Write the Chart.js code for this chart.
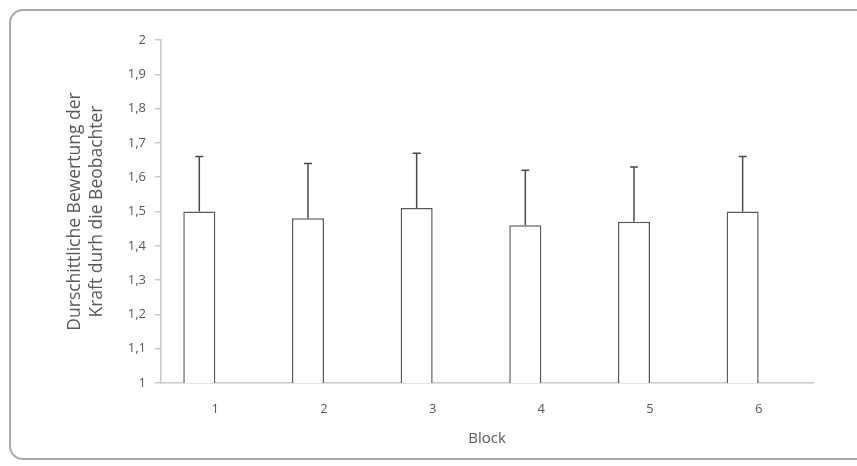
<!DOCTYPE html>
<html>
<head>
<meta charset="utf-8">
<script src="https://cdn.jsdelivr.net/npm/chart.js@4.4.1/dist/chart.umd.min.js"></script>
<style>
    html, body { margin: 0; padding: 0; background: #fff; overflow: hidden; }
    .frame {
        position: absolute; left: 9px; top: 9px; width: 900px; height: 451px;
        border: 2px solid #a9a9a9; border-radius: 14px; box-sizing: border-box;
    }
    .wrap { position: absolute; left: 0; top: 0; width: 857px; height: 466px; }
</style>
</head>
<body>
<div class="frame"></div>
<div class="wrap"><canvas id="blockChart"></canvas></div>
<script>
const BLOCKS = ['1', '2', '3', '4', '5', '6'];
const MEANS = [1.50, 1.48, 1.51, 1.46, 1.47, 1.50];
const ERRORS = [0.16, 0.16, 0.16, 0.16, 0.16, 0.16];
const Y_TICKS = [1, 1.1, 1.2, 1.3, 1.4, 1.5, 1.6, 1.7, 1.8, 1.9, 2];

const TEXT_COLOR = '#595959';
const AXIS_COLOR = '#c8c8c8';
const FONT = 'Open Sans';

// only upward error bars, like the original
const errorBars = {
    id: 'errorBars',
    afterDatasetsDraw(chart) {
        const meta = chart.getDatasetMeta(0);
        const y = chart.scales.y;
        const ctx = chart.ctx;
        ctx.save();
        ctx.strokeStyle = '#4a4a4a';
        ctx.lineWidth = 1.5;
        meta.data.forEach((bar, i) => {
            const top = y.getPixelForValue(MEANS[i] + ERRORS[i]);
            const base = y.getPixelForValue(MEANS[i]);
            ctx.beginPath();
            ctx.moveTo(bar.x, base);
            ctx.lineTo(bar.x, top);
            ctx.moveTo(bar.x - 4, top);
            ctx.lineTo(bar.x + 4, top);
            ctx.stroke();
        });
        ctx.restore();
    }
};

const ctx = document.getElementById('blockChart').getContext('2d');
new Chart(ctx, {
    type: 'bar',
    data: {
        labels: BLOCKS,
        datasets: [{
            data: MEANS,
            backgroundColor: '#ffffff',
            borderColor: '#5a5a5a',
            borderWidth: 1.5,
            categoryPercentage: 0.59,
            barPercentage: 1,
        }, {
            // empty second series keeps the bars on the left half of each slot
            data: BLOCKS.map(() => null),
            categoryPercentage: 0.59,
            barPercentage: 1,
        }]
    },
    options: {
        responsive: true,
        maintainAspectRatio: false,
        animation: false,
        layout: { padding: { left: 64, top: 40, right: 44, bottom: 14 } },
        plugins: { legend: { display: false }, tooltip: { enabled: false } },
        scales: {
            x: {
                grid: { display: false },
                border: { display: true, color: AXIS_COLOR, width: 1.5 },
                ticks: { color: TEXT_COLOR, font: { family: FONT, size: 13 }, padding: 10 },
                title: {
                    display: true, text: 'Block', color: TEXT_COLOR,
                    font: { family: FONT, size: 15 }, padding: { top: 4, bottom: 4 }
                },
                afterFit(scale) { scale.height = 69; }
            },
            y: {
                min: 1,
                max: 2,
                afterBuildTicks(scale) { scale.ticks = Y_TICKS.map(v => ({ value: v })); },
                grid: { drawOnChartArea: false, tickLength: 6, color: AXIS_COLOR, lineWidth: 1.5 },
                border: { display: true, color: AXIS_COLOR, width: 1.5 },
                ticks: {
                    color: TEXT_COLOR, font: { family: FONT, size: 13 }, padding: 9,
                    callback: v => String(Math.round(v * 10) / 10).replace('.', ',')
                },
                title: {
                    display: true,
                    text: ['Durschittliche Bewertung der', 'Kraft durh die Beobachter'],
                    color: TEXT_COLOR,
                    font: { family: FONT, size: 17.5, lineHeight: 1.26 },
                    padding: 0
                },
                afterFit(scale) { scale.width = 97; }
            }
        }
    },
    plugins: [errorBars]
});
</script>
</body>
</html>
